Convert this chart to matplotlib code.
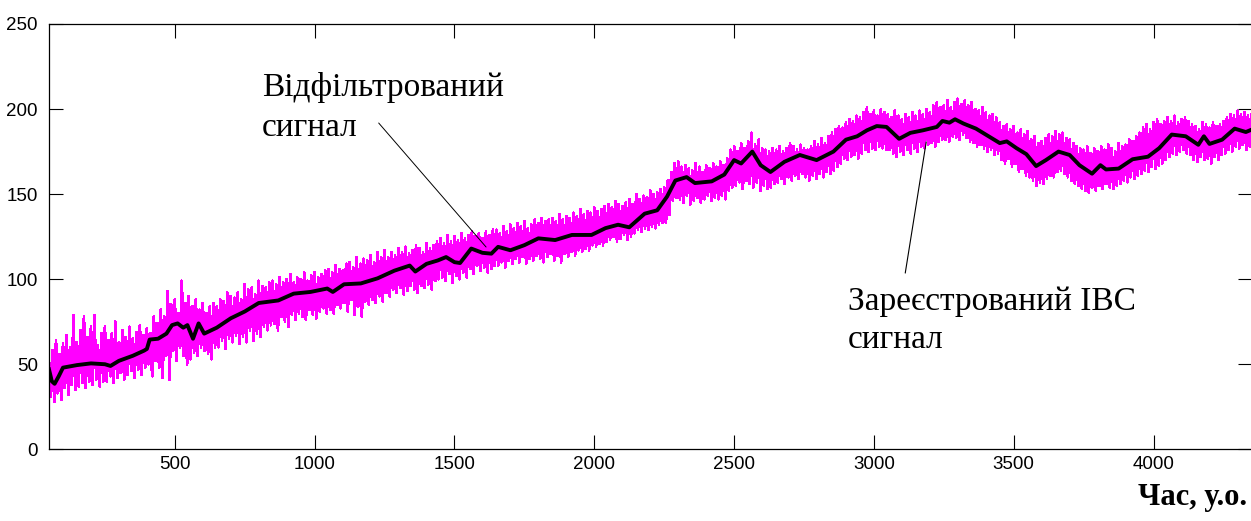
import numpy as np
import matplotlib
matplotlib.use("Agg")
import matplotlib.pyplot as plt

# filtered (smoothed) signal, sampled at the turning points
filt_x = [50, 60, 70, 85, 100, 150, 200, 250, 270, 300, 350, 390, 400, 410, 440,
          470, 490, 510, 530, 545, 565, 585, 605, 650, 700, 750, 800, 870, 925, 985,
          1045, 1065, 1105, 1165, 1225, 1285, 1340, 1360, 1400, 1440, 1470, 1500,
          1520, 1560, 1600, 1632, 1656, 1700, 1750, 1800, 1860, 1920, 1990, 2040,
          2085, 2125, 2180, 2225, 2260, 2290, 2330, 2360, 2420, 2465, 2500, 2525,
          2565, 2595, 2630, 2680, 2735, 2795, 2855, 2900, 2940, 2975, 3010, 3045,
          3090, 3130, 3175, 3225, 3245, 3270, 3290, 3320, 3365, 3415, 3450, 3475,
          3510, 3545, 3580, 3615, 3660, 3700, 3735, 3780, 3810, 3830, 3875, 3925,
          3980, 4020, 4065, 4115, 4160, 4180, 4200, 4245, 4290, 4330, 4352]
filt_y = [47, 40, 38.5, 43, 48, 49.5, 50.5, 50, 49, 52, 55, 58, 59, 64.5, 65,
          68, 73, 74, 71.5, 73, 65, 74, 68, 71.5, 77, 81, 86, 87.5, 91.5, 92.5,
          94.5, 92.5, 97, 97.5, 100.5, 105, 108, 104.5, 109, 111, 113, 110,
          109.5, 118, 115.5, 115, 119, 117, 120, 124, 123, 126, 126, 130,
          132, 130.5, 138.5, 140.5, 148.5, 158, 160, 156.5, 157.5, 161.5, 170, 168,
          175, 167, 163, 169, 173, 170, 175, 182, 184, 187.5, 190, 189.5,
          182.5, 186, 187.5, 189.5, 193, 192, 194, 191.5, 188.5, 183.5, 180, 181,
          177, 173.5, 166.5, 170, 175, 173, 167, 162, 167, 164.5, 165, 170.5,
          172, 177, 185, 184, 179, 184, 179.5, 182, 188.5, 186.5, 188]

# recorded signal: peak / trough of every 12.5-sample step, 50 .. 4350
raw_step = 12.5
raw_hi = [52, 58, 64, 56, 62, 67, 60, 79, 63, 70, 78, 66, 72, 79, 61, 68,
          72, 64, 68, 75, 63, 70, 66, 72, 65, 69, 73, 67, 71, 68, 78, 74,
          82, 78, 93, 85, 88, 80, 99, 86, 90, 84, 88, 82, 86, 80, 84, 86,
          84, 88, 87, 92, 90, 89, 92, 88, 97, 94, 95, 91, 99, 96, 95, 98,
          99, 97, 101, 98, 100, 103, 98, 101, 100, 104, 99, 102, 104, 101, 103, 105,
          106, 104, 108, 106, 105, 109, 110, 107, 113, 109, 112, 111, 114, 110, 116, 113,
          117, 113, 116, 114, 118, 116, 119, 115, 117, 120, 118, 116, 121, 118, 120, 122,
          124, 121, 126, 122, 125, 123, 127, 124, 126, 128, 125, 127, 124, 128, 126, 129,
          129, 127, 131, 128, 132, 130, 133, 131, 134, 130, 132, 135, 133, 136, 134, 135,
          136, 134, 138, 135, 137, 136, 139, 137, 141, 138, 140, 139, 142, 140, 141, 143,
          144, 142, 146, 144, 143, 145, 147, 144, 150, 147, 149, 148, 152, 150, 151, 153,
          154, 158, 163, 168, 169, 166, 167, 165, 164, 168, 166, 163, 167, 165, 168, 166,
          169, 167, 171, 176, 178, 175, 180, 177, 181, 186, 179, 182, 177, 176, 175, 177,
          176, 178, 175, 177, 180, 178, 176, 179, 177, 176, 178, 181, 179, 183, 180, 184,
          186, 188, 190, 189, 192, 194, 193, 196, 195, 198, 201, 197, 199, 196, 200, 198,
          197, 195, 199, 196, 194, 197, 195, 198, 196, 199, 197, 200, 198, 202, 204, 201,
          202, 205, 201, 204, 206, 203, 205, 202, 204, 200, 199, 201, 198, 196, 197, 195,
          192, 190, 191, 188, 190, 186, 188, 185, 187, 182, 184, 180, 181, 183, 185, 184,
          187, 185, 186, 183, 182, 180, 178, 177, 176, 178, 174, 177, 175, 178, 176, 179,
          177, 175, 180, 178, 179, 182, 181, 184, 186, 189, 191, 188, 192, 194, 191, 193,
          195, 193, 196, 192, 194, 195, 193, 191, 190, 188, 192, 191, 189, 192, 190, 191,
          193, 195, 197, 196, 199, 197, 198, 196, 197]
raw_lo = [31, 28, 33, 29, 36, 32, 38, 35, 37, 39, 36, 40, 38, 41, 37, 40,
          40, 43, 39, 42, 45, 41, 44, 46, 42, 47, 44, 48, 50, 43, 52, 48,
          42, 55, 41, 58, 52, 60, 55, 50, 53, 57, 55, 60, 58, 56, 53, 60,
          60, 64, 59, 65, 63, 67, 62, 66, 63, 70, 64, 68, 66, 72, 70, 73,
          74, 70, 78, 75, 72, 79, 76, 80, 78, 76, 82, 79, 77, 81, 83, 80,
          82, 80, 85, 83, 86, 81, 88, 79, 84, 78, 87, 85, 88, 86, 90, 87,
          92, 90, 94, 92, 95, 91, 93, 96, 94, 92, 96, 95, 97, 94, 99, 100,
          101, 99, 103, 98, 102, 100, 104, 101, 106, 103, 108, 105, 107, 104, 106, 108,
          108, 110, 107, 111, 109, 112, 110, 113, 109, 112, 111, 114, 112, 110, 113, 115,
          111, 114, 110, 115, 113, 116, 114, 117, 116, 118, 117, 120, 119, 121, 120, 122,
          123, 125, 122, 124, 126, 123, 125, 127, 129, 128, 130, 129, 131, 130, 132, 133,
          133, 138, 146, 148, 147, 145, 149, 144, 146, 148, 145, 147, 149, 146, 148, 147,
          149, 147, 152, 154, 155, 157, 153, 158, 156, 154, 157, 152, 155, 153, 154, 156,
          157, 159, 156, 160, 158, 161, 159, 162, 160, 158, 161, 159, 162, 160, 163, 162,
          164, 166, 168, 171, 170, 172, 173, 171, 174, 176, 175, 177, 176, 178, 177, 176,
          176, 174, 172, 175, 173, 176, 174, 177, 175, 178, 177, 179, 180, 178, 181, 182,
          182, 181, 184, 183, 182, 185, 183, 181, 180, 178, 179, 177, 175, 176, 173, 174,
          170, 168, 171, 166, 168, 163, 165, 161, 160, 158, 155, 157, 156, 159, 161, 160,
          163, 164, 162, 160, 158, 156, 155, 153, 152, 151, 154, 152, 155, 153, 156, 154,
          153, 155, 156, 158, 157, 160, 159, 161, 162, 164, 163, 166, 165, 167, 168, 170,
          172, 174, 173, 175, 176, 174, 173, 170, 169, 172, 170, 171, 168, 172, 170, 173,
          174, 176, 175, 178, 177, 179, 176, 178, 177]

x_ticks = [500, 1000, 1500, 2000, 2500, 3000, 3500, 4000]
y_ticks = [0, 50, 100, 150, 200, 250]

fig = plt.figure(figsize=(12.51, 5.21), dpi=100)
ax = fig.add_axes([49 / 1251, 71.7 / 521, 1203 / 1251, 425.3 / 521])

# interleave peaks and troughs into one raw trace
raw_x = 50 + raw_step * np.arange(len(raw_hi))
trace_x = np.column_stack([raw_x, raw_x + raw_step / 2]).ravel()
trace_y = np.column_stack([raw_hi, raw_lo]).ravel()
ax.plot(trace_x, trace_y, color="#ff00ff", lw=1.3, antialiased=False)
ax.plot(filt_x, filt_y, color="black", lw=2.8)

ax.set_xlim(50, 4352)
ax.set_ylim(0, 250)
ax.set_xticks(x_ticks)
ax.set_yticks(y_ticks)
ax.tick_params(direction="in", length=10, width=0.8, top=True, right=True,
               labelsize=13.5, colors="black")
ax.tick_params(axis="y", pad=8)
ax.tick_params(axis="x", pad=5)
for lab in ax.get_xticklabels() + ax.get_yticklabels():
    lab.set_fontfamily("Liberation Sans")
for sp in ax.spines.values():
    sp.set_linewidth(0.9)

serif = "Liberation Serif"
ax.text(812, 207.7, "Відфільтрований", fontsize=24, family=serif, va="baseline")
ax.text(812, 184.2, "сигнал", fontsize=24, family=serif, va="baseline")
ax.annotate("", xy=(1613, 118.9), xytext=(1229, 191.8),
            arrowprops=dict(arrowstyle="-", color="black", lw=0.7,
                            shrinkA=0, shrinkB=0))

ax.text(2906, 81.9, "Зареєстрований ІВС", fontsize=24, family=serif, va="baseline")
ax.text(2906, 59.6, "сигнал", fontsize=24, family=serif, va="baseline")
ax.annotate("", xy=(3187, 180.7), xytext=(3112, 103.6),
            arrowprops=dict(arrowstyle="-", color="black", lw=0.8,
                            shrinkA=0, shrinkB=0))

fig.text(1247 / 1251, (521 - 505) / 521, "Час, у.о.", fontsize=22, family=serif,
         fontweight="bold", ha="right", va="baseline")

fig.savefig("out.png", dpi=100)
